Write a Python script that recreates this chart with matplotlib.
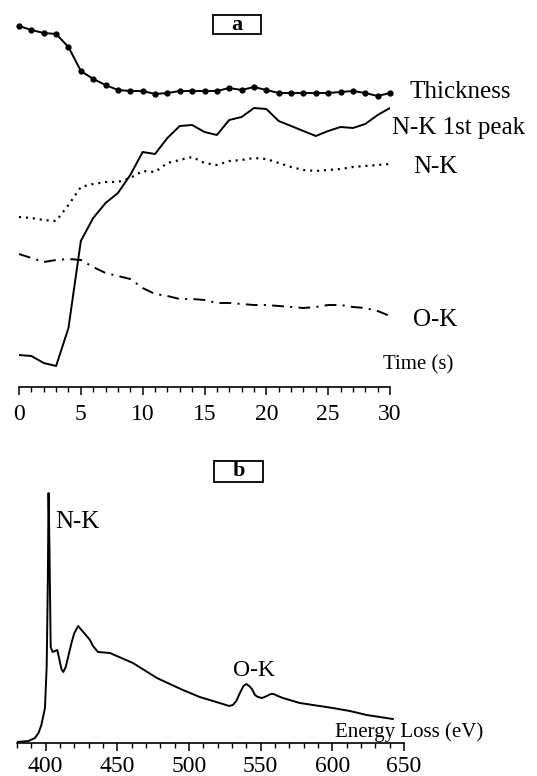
import matplotlib
matplotlib.use("Agg")
import matplotlib.pyplot as plt
from matplotlib.patches import Rectangle
from matplotlib.ticker import MultipleLocator
import numpy as np

plt.rcParams['font.family'] = ['Liberation Serif', 'DejaVu Serif']
plt.rcParams['lines.scale_dashes'] = False

# panel a: time series (arbitrary units)
time_s = list(range(31))
thickness = [361, 357, 354, 353, 340, 316, 308, 302, 297, 296, 296, 293, 294, 296, 296, 296,
             296, 299, 297, 300, 297, 294, 294, 294, 294, 294, 295, 296, 294, 291, 294]
nk_first_peak = [32, 31, 24, 21, 59, 146, 169, 184, 194, 212, 235, 233, 249, 261, 262, 255,
                 252, 267, 270, 279, 278, 266, 261, 256, 251, 256, 260, 259, 263, 272, 279]
nk = [170, 169, 167, 166, 182, 200, 203, 205, 205, 209, 216, 215, 224, 227, 230, 224,
      222, 226, 227, 229, 228, 224, 220, 217, 216, 217, 218, 220, 221, 222, 223]
ok = [133, 129, 125, 127, 128, 127, 120, 114, 111, 108, 99, 93, 91, 88, 88, 87,
      84, 84, 83, 82, 82, 81, 80, 79, 80, 82, 82, 80, 79, 76, 71]

# panel b: EELS spectrum (arbitrary units)
energy = [380, 388, 392.5, 395, 397, 398.5, 399.5, 400.7, 401.5, 402, 402.6, 403.5, 404.9,
          406.5, 408.1, 409.5, 411, 412.3, 414, 416, 418, 420, 422.7, 425, 428, 430.9, 433,
          436.5, 444.8, 460.9, 477.6, 495.7, 507.5, 523.6, 528, 530.6, 533, 535.5, 538, 540,
          542, 543.9, 546, 548.1, 551, 554.3, 557, 559, 562, 565.5, 577.3, 600.3, 612.2,
          624, 642.2]
counts = [1, 2, 5, 10, 18, 28, 35, 76, 160, 250, 200, 96, 91,
          92, 93, 84, 74, 71, 76, 88, 100, 110, 117, 113, 108, 103, 97,
          91, 90, 80, 65, 53, 46, 39, 37, 38, 42, 50, 57, 59,
          57, 54, 48, 46, 45, 47, 49, 49, 47, 45, 40, 35, 32,
          28, 24]

W, H = 537, 776
fig = plt.figure(figsize=(W / 100, H / 100), dpi=100)

def style_axis(ax, pad):
    for s in ['left', 'right', 'top']:
        ax.spines[s].set_visible(False)
    ax.spines['bottom'].set_linewidth(1.2)
    ax.set_yticks([])
    ax.tick_params(axis='x', which='major', direction='out', length=6, width=1.1,
                   labelsize=17, pad=pad)
    ax.tick_params(axis='x', which='minor', direction='out', length=3.5, width=1.0)

# ---- panel a
ax1 = fig.add_axes([19 / W, 1 - 387 / H, 371 / W, 387 / H])
ax1.plot(time_s, thickness, color='black', lw=1.4, marker='o', ms=3.5, clip_on=False)
ax1.plot(time_s, nk_first_peak, color='black', lw=1.4)
ax1.plot(time_s, nk, color='black', lw=1.6, linestyle=(0, (1.5, 3.5)))
ax1.plot(time_s, ok, color='black', lw=1.4, linestyle=(0, (8.5, 4.5, 1.5, 4.5)))
ax1.set_xlim(0, 30)
ax1.set_ylim(0, 387)
ax1.xaxis.set_major_locator(MultipleLocator(5))
ax1.xaxis.set_minor_locator(MultipleLocator(1))
style_axis(ax1, 6)

lab = dict(fontsize=18, va='center', ha='left', clip_on=False)
ax1.text(31.6, 295, 'Thickness', **lab)
ax1.text(30.15, 259, 'N-K 1st peak', **lab)
ax1.text(31.85, 220, 'N-K', **lab)
ax1.text(31.85, 67, 'O-K', **lab)
ax1.text(29.4, 22, 'Time (s)', fontsize=15, va='center', ha='left', clip_on=False)

# ---- panel b
ax2 = fig.add_axes([17 / W, 1 - 743 / H, 387 / W, 303 / H])
ax2.plot(energy, counts, color='black', lw=1.4)
ax2.set_xlim(380, 650)
ax2.set_ylim(0, 303)
ax2.xaxis.set_major_locator(MultipleLocator(50))
ax2.xaxis.set_minor_locator(MultipleLocator(10))
style_axis(ax2, 3.5)
ax2.text(407, 221, 'N-K', **lab)
ax2.text(531, 73, 'O-K', fontsize=17, va='center', ha='left', clip_on=False)
ax2.text(602, 11, 'Energy Loss (eV)', fontsize=15, va='center', ha='left', clip_on=False)

# panel letters in boxes
for (x0, y0, w, h, letter) in [(213, 15, 48, 19, 'a'), (214, 461, 49, 21, 'b')]:
    fig.patches.append(Rectangle((x0 / W, 1 - (y0 + h) / H), w / W, h / H,
                                 transform=fig.transFigure, fill=False,
                                 ec='black', lw=1.3))
    fig.text((x0 + w / 2) / W, 1 - (y0 + h / 2) / H, letter, fontsize=16,
             fontweight='bold', ha='center', va='center')

fig.savefig('out.png', dpi=100)
